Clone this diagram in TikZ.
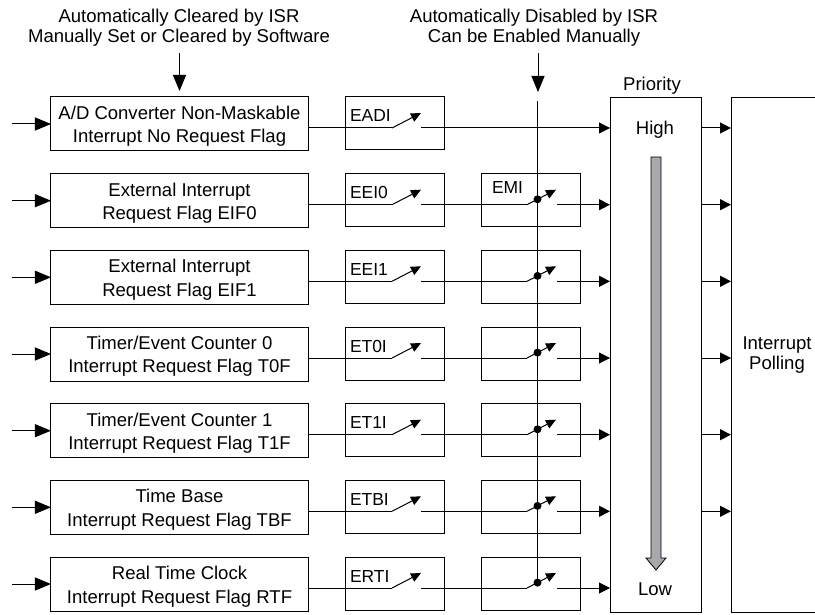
\documentclass[tikz,border=0pt]{standalone}
\usepackage{fontspec}
\setmainfont{Liberation Sans}
\usetikzlibrary{arrows.meta}
\definecolor{pgray}{RGB}{167,169,172}
\begin{document}
\begin{tikzpicture}[x=1bp,y=-1bp,
  every node/.style={inner sep=0pt, outer sep=0pt},
  ln/.style={line width=1bp},
  box/.style={draw, line width=1bp},
  flagbox/.style={box, minimum width=257bp, minimum height=54bp},
  flagtxt/.style={font=\fontsize{18.6}{23.5}\selectfont, align=center},
  enbox/.style={box, minimum width=99bp, minimum height=53bp},
  lbl/.style={font=\fontsize{18.6}{19.5}\selectfont, align=center},
  swlbl/.style={font=\fontsize{17.5}{20}\selectfont, anchor=west},
  bigarr/.style={ln, -{Triangle[length=16bp,width=13bp]}},
  midarr/.style={ln, -{Triangle[length=11bp,width=11bp]}},
  swarr/.style={ln, -{Triangle[length=10bp,width=9bp]}},
]
\useasboundingbox (0,0) rectangle (815,615);

% top labels
\node[lbl] (t1) at (179,27.5) {Automatically Cleared by ISR\\Manually Set or Cleared by Software};
\node[lbl] (t2) at (534,27.5) {Automatically Disabled by ISR\\Can be Enabled Manually};

% flag boxes
\foreach \i/\r in {1/128, 2/204.7, 3/281.3, 4/358, 5/434.7, 6/511.3, 7/588}{
  \node[flagbox] (f\i) at (179.5,\r-4) {};
}
\node[flagtxt] (ft1) at (179.5,126.5) {A/D Converter Non-Maskable\\Interrupt No Request Flag};
\node[flagtxt] (ft2) at (179.5,203.2) {External Interrupt\\Request Flag EIF0};
\node[flagtxt] (ft3) at (179.5,279.8) {External Interrupt\\Request Flag EIF1};
\node[flagtxt] (ft4) at (179.5,356.5) {Timer/Event Counter 0\\Interrupt Request Flag T0F};
\node[flagtxt] (ft5) at (179.5,433.2) {Timer/Event Counter 1\\Interrupt Request Flag T1F};
\node[flagtxt] (ft6) at (179.5,509.8) {Time Base\\Interrupt Request Flag TBF};
\node[flagtxt] (ft7) at (179.5,586.5) {Real Time Clock\\Interrupt Request Flag RTF};

% priority and polling
\node[draw, ln, minimum width=91bp, minimum height=514bp] (P) at (655.5,355) {};
\node[minimum width=84bp, minimum height=514bp] (Q) at (773,355) {};
\draw[ln] (Q.north east) -- (Q.north west) -- (Q.south west) -- (Q.south east);
\node[lbl] (pollt) at (777,355) {Interrupt\\Polling};
\node[lbl] (pr) at (652,86) {Priority};
\node[lbl] (hi) at (655,130) {High};
\node[lbl] (lo) at (655,589) {Low};
\filldraw[fill=pgray, line width=0.8bp] (651,157) -- (661,157) -- (661,558) -- (666,558)
  -- (656,570) -- (646,558) -- (651,558) -- cycle;

% enable boxes and switches
\foreach \i/\r/\nm in {1/128/EADI, 2/204.7/EEI0, 3/281.3/EEI1, 4/358/ET0I, 5/434.7/ET1I, 6/511.3/ETBI, 7/588/ERTI}{
  \node[enbox] (e\i) at (394.5,\r-4.5) {};
  \node[swlbl] (el\i) at (350,\r-12) {\nm};
  \coordinate (in\i) at (12,\r-4);
  \draw[bigarr] (in\i) -- (f\i.west);
  \coordinate (a\i) at (392,\r);
  \coordinate (b\i) at (421,\r-15);
  \coordinate (c\i) at (421,\r);
  \draw[ln] (f\i.east |- a\i) -- (a\i);
  \draw[swarr] (a\i) -- (b\i);
}
\draw[midarr] (c1) -- (P.west |- c1);

\foreach \i/\r in {2/204.7, 3/281.3, 4/358, 5/434.7, 6/511.3, 7/588}{
  \node[enbox] (m\i) at (531,\r-4.5) {};
  \coordinate (d\i) at (527,\r);
  \coordinate (g\i) at (556,\r-15);
  \coordinate (h\i) at (557,\r);
  \draw[ln] (c\i) -- (d\i);
  \draw[swarr] (d\i) -- (g\i);
  \fill (537.5,\r-5.4) circle (4bp);
  \draw[midarr] (h\i) -- (P.west |- h\i);
}
\node[swlbl] (emil) at (492,188) {EMI};

\foreach \i in {1,...,6}{
  \draw[midarr] (P.east |- c\i) -- (Q.west |- c\i);
}

% top arrows and enable line
\coordinate (t1a) at (179.5,53);
\draw[bigarr] (t1a) -- ([yshift=6bp]f1.north);
\coordinate (t2a) at (538,53);
\coordinate (t2b) at (538,92);
\draw[bigarr] (t2a) -- (t2b);
\coordinate (vtop) at (537.5,101);
\coordinate (vbot) at (537.5,582.6);
\draw[ln] (vtop) -- (vbot);
\end{tikzpicture}
\end{document}
